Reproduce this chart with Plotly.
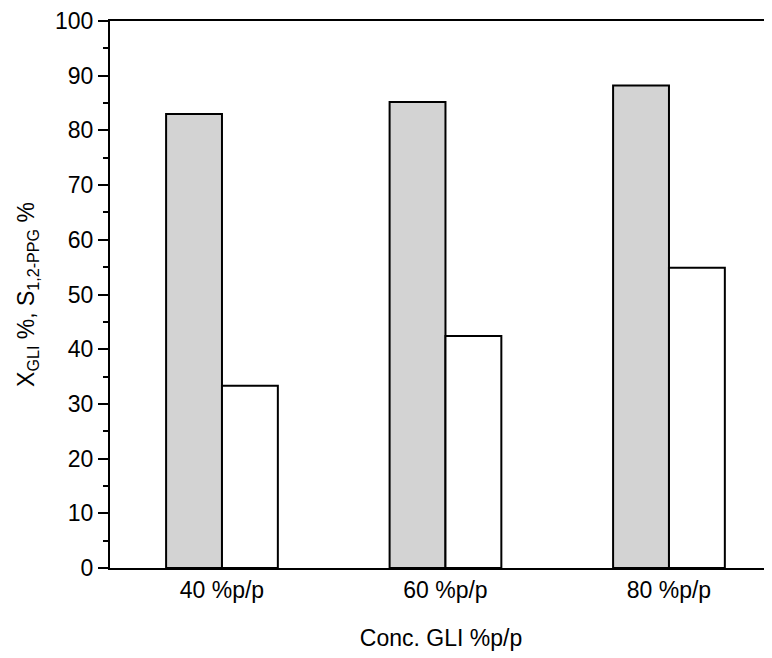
import plotly.graph_objects as go

categories = ["40 %p/p", "60 %p/p", "80 %p/p"]
conversion_gli = [83.0, 85.2, 88.2]
selectivity_12ppg = [33.3, 42.4, 54.9]
y_tick_vals = [0, 10, 20, 30, 40, 50, 60, 70, 80, 90, 100]

FONT = "Liberation Sans, Arial, sans-serif"
FS = 23

fig = go.Figure()
fig.add_trace(go.Bar(
    x=categories, y=conversion_gli, name="X GLI",
    marker=dict(color="#d3d3d3", line=dict(color="black", width=2)),
))
fig.add_trace(go.Bar(
    x=categories, y=selectivity_12ppg, name="S 1,2-PPG",
    marker=dict(color="white", line=dict(color="black", width=2)),
))

fig.update_layout(
    width=764, height=650,
    margin=dict(l=102, r=0, t=13, b=90, autoexpand=False),
    paper_bgcolor="white", plot_bgcolor="white",
    barmode="group", bargap=0.5, bargroupgap=0,
    showlegend=False,
    font=dict(family=FONT, size=FS, color="black"),
)
fig.update_xaxes(
    type="category", range=[-0.501, 2.461],
    showline=True, linecolor="black", linewidth=2, mirror=True,
    ticks="", showgrid=False, zeroline=False, automargin=False,
    tickfont=dict(size=FS),
    title=dict(text="Conc. GLI %p/p", font=dict(size=FS), standoff=28),
)
fig.update_yaxes(
    range=[0, 100], tickvals=y_tick_vals,
    showline=True, linecolor="black", linewidth=2, automargin=False,
    ticks="outside", ticklen=10, tickwidth=2, tickcolor="black",
    minor=dict(dtick=5, ticks="outside", ticklen=5, tickwidth=2, tickcolor="black", showgrid=False),
    showgrid=False, zeroline=False,
    tickfont=dict(size=FS),
    title=dict(text="X<sub>GLI</sub> %, S<sub>1,2-PPG</sub> %", font=dict(size=FS), standoff=14),
)

fig.write_html("out.html")
